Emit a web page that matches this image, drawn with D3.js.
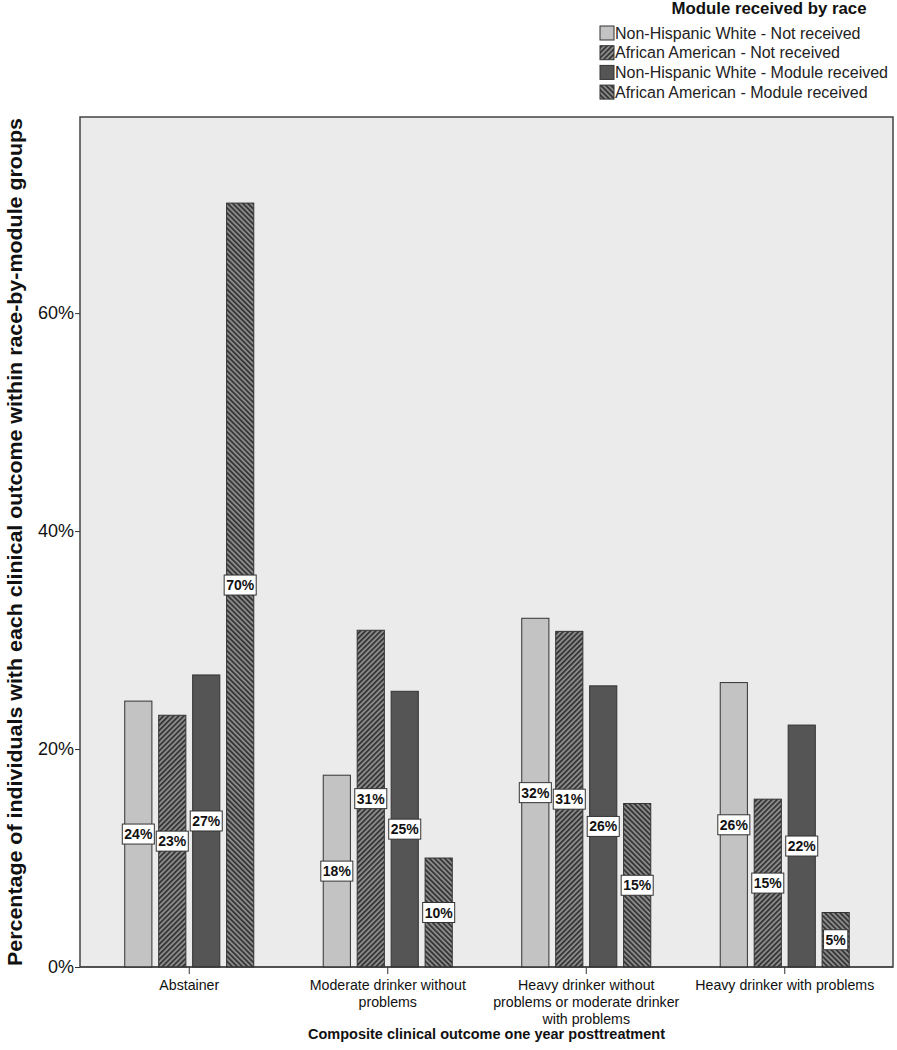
<!DOCTYPE html>
<html>
<head>
<meta charset="utf-8">
<script src="https://cdn.jsdelivr.net/npm/d3@7"></script>
<style>
  html, body { margin: 0; padding: 0; background: #fff; }
  svg { display: block; font-family: "Liberation Sans", Arial, sans-serif; }
</style>
</head>
<body>
<svg id="chart" width="897" height="1050"></svg>
<script>
// ---- data ----
const categories = [
  "Abstainer",
  "Moderate drinker without\nproblems",
  "Heavy drinker without\nproblems or moderate drinker\nwith problems",
  "Heavy drinker with problems"
];
const seriesNames = [
  "Non-Hispanic White - Not received",
  "African American - Not received",
  "Non-Hispanic White - Module received",
  "African American - Module received"
];
const nhwNotReceived = [24.4, 17.6, 32.0, 26.1];
const aaNotReceived = [23.1, 30.9, 30.8, 15.4];
const nhwModuleReceived = [26.8, 25.3, 25.8, 22.2];
const aaModuleReceived = [70.1, 10.0, 15.0, 5.0];
const yTicks = [0, 20, 40, 60];
const yTitle = "Percentage of individuals with each clinical outcome within race-by-module groups";
const xTitle = "Composite clinical outcome one year posttreatment";
const legendTitle = "Module received by race";

const seriesValues = [nhwNotReceived, aaNotReceived, nhwModuleReceived, aaModuleReceived];
const fills = ["#c3c3c3", "url(#hatchFwd)", "#555555", "url(#hatchBack)"];

// ---- layout ----
const plot = { left: 80, right: 893, top: 117, bottom: 967 };
const svg = d3.select("#chart");

const defs = svg.append("defs");
function hatch(id, angle) {
  const p = defs.append("pattern")
    .attr("id", id).attr("patternUnits", "userSpaceOnUse")
    .attr("width", 3.6).attr("height", 3.6)
    .attr("patternTransform", `rotate(${angle})`);
  p.append("rect").attr("width", 3.6).attr("height", 3.6).attr("fill", "#8a8a8a");
  p.append("rect").attr("x", 0).attr("width", 1.7).attr("height", 3.6).attr("fill", "#333");
}
hatch("hatchFwd", 45);
hatch("hatchBack", -45);

const x0 = d3.scaleBand().domain(categories).range([90, 884]).paddingInner(0.35).paddingOuter(0.175);
const x1 = d3.scaleBand().domain(seriesNames).range([0, x0.bandwidth()]).paddingInner(0.2);
const y = d3.scaleLinear().domain([0, 78]).range([plot.bottom, plot.top]);

// plot background
svg.append("rect")
  .attr("x", plot.left).attr("y", plot.top)
  .attr("width", plot.right - plot.left).attr("height", plot.bottom - plot.top)
  .attr("fill", "#ebebeb").attr("stroke", "#444").attr("stroke-width", 1.5);

// bars
const groups = svg.append("g").selectAll("g")
  .data(categories).join("g")
  .attr("transform", d => `translate(${x0(d)},0)`);

groups.each(function(cat, ci) {
  const g = d3.select(this);
  seriesNames.forEach((s, si) => {
    const v = seriesValues[si][ci];
    g.append("rect")
      .attr("x", x1(s)).attr("y", y(v))
      .attr("width", x1.bandwidth()).attr("height", y(0) - y(v))
      .attr("fill", fills[si]).attr("stroke", "#333").attr("stroke-width", 1);
  });
  seriesNames.forEach((s, si) => {
    const v = seriesValues[si][ci];
    const cy = (y(v) + y(0)) / 2;
    const cx = x1(s) + x1.bandwidth() / 2;
    const lbl = g.append("g");
    const t = lbl.append("text")
      .attr("x", cx).attr("y", cy + 5)
      .attr("text-anchor", "middle")
      .attr("font-family", "'Liberation Sans Narrow', 'Arial Narrow', 'Liberation Sans', sans-serif")
      .attr("font-weight", "bold").attr("font-size", 14)
      .attr("fill", "#111")
      .text(Math.round(v) + "%");
    const bw = Math.max(t.node().getComputedTextLength() + 4, 24);
    lbl.insert("rect", "text")
      .attr("x", cx - bw / 2).attr("y", cy - 10)
      .attr("width", bw).attr("height", 20)
      .attr("fill", "#fff").attr("stroke", "#333").attr("stroke-width", 1);
  });
});

// y axis
const yAxis = svg.append("g")
  .attr("transform", `translate(${plot.left},0)`)
  .call(d3.axisLeft(y).tickValues(yTicks).tickFormat(d => d + "%").tickSize(5).tickPadding(1));
yAxis.select(".domain").remove();
yAxis.selectAll(".tick line").attr("stroke", "#333");
yAxis.selectAll(".tick text")
  .attr("font-family", "'Liberation Sans', Arial, sans-serif")
  .attr("font-size", 18).attr("fill", "#111");

// x axis
const xAxis = svg.append("g")
  .attr("transform", `translate(0,${plot.bottom})`)
  .call(d3.axisBottom(x0).tickSize(7).tickFormat(""));
xAxis.select(".domain").attr("stroke", "#333").attr("d", `M${plot.left},0H${plot.right}`);
xAxis.selectAll(".tick line").attr("stroke", "#333");

xAxis.selectAll(".tick").append("text")
  .attr("text-anchor", "middle")
  .attr("font-family", "'Liberation Sans', Arial, sans-serif")
  .attr("font-size", 14.2).attr("fill", "#111")
  .each(function(d) {
    const t = d3.select(this);
    d.split("\n").forEach((line, i) => {
      t.append("tspan").attr("x", 0).attr("y", 23 + i * 17).text(line);
    });
  });

// axis titles
svg.append("text")
  .attr("transform", `translate(22,${(plot.top + plot.bottom) / 2}) rotate(-90)`)
  .attr("text-anchor", "middle")
  .attr("font-weight", "bold").attr("font-size", 19.5).attr("fill", "#111")
  .attr("textLength", 848).attr("lengthAdjust", "spacingAndGlyphs")
  .text(yTitle);

svg.append("text")
  .attr("x", (plot.left + plot.right) / 2).attr("y", 1039)
  .attr("text-anchor", "middle")
  .attr("font-weight", "bold").attr("font-size", 14.5).attr("fill", "#111")
  .text(xTitle);

// legend
const legend = svg.append("g");
legend.append("text")
  .attr("x", 769).attr("y", 14)
  .attr("text-anchor", "middle")
  .attr("font-weight", "bold").attr("font-size", 16.8).attr("fill", "#111")
  .text(legendTitle);
seriesNames.forEach((s, i) => {
  const ry = 33 + i * 19.7;
  legend.append("rect")
    .attr("x", 600).attr("y", ry - 7).attr("width", 14).attr("height", 14)
    .attr("fill", fills[i]).attr("stroke", "#333").attr("stroke-width", 1);
  legend.append("text")
    .attr("x", 615).attr("y", ry + 5.5)
    .attr("font-size", 16).attr("fill", "#222")
    .text(s);
});
</script>
</body>
</html>
